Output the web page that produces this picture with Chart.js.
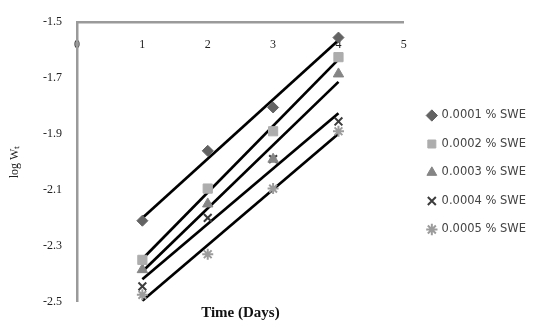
<!DOCTYPE html>
<html>
<head>
<meta charset="utf-8">
<script src="https://cdn.jsdelivr.net/npm/chart.js@4/dist/chart.umd.min.js"></script>
<style>
html,body{margin:0;padding:0;background:#fff;}
#wrap{width:536px;height:324px;position:relative;}
</style>
</head>
<body>
<div id="wrap"><canvas id="c" width="536" height="324"></canvas></div>
<script>
const days = [1, 2, 3, 4];
const seriesLabels = ['0.0001 % SWE', '0.0002 % SWE', '0.0003 % SWE', '0.0004 % SWE', '0.0005 % SWE'];
const swe1 = [-2.21, -1.96, -1.805, -1.555];
const swe2 = [-2.35, -2.095, -1.89, -1.625];
const swe3 = [-2.385, -2.15, -1.99, -1.685];
const swe4 = [-2.445, -2.20, -1.99, -1.855];
const swe5 = [-2.475, -2.33, -2.095, -1.89];
const xTicks = [0, 1, 2, 3, 4, 5];
const yTicks = [-2.5, -2.3, -2.1, -1.9, -1.7, -1.5];

const allSeries = [swe1, swe2, swe3, swe4, swe5];
const styles = [
  {pointStyle: 'rectRot', color: '#636363', radius: 5.5},
  {pointStyle: 'rect', color: '#adadad', radius: 6.5},
  {pointStyle: 'triangle', color: '#858585', radius: 6},
  {pointStyle: 'crossRot', color: '#3c3c3c', radius: 5.5},
  {pointStyle: 'star', color: '#9c9c9c', radius: 5.5}
];

function fit(xs, ys) {
  const n = xs.length;
  const mx = xs.reduce((a, b) => a + b, 0) / n;
  const my = ys.reduce((a, b) => a + b, 0) / n;
  let sxy = 0, sxx = 0;
  for (let i = 0; i < n; i++) { sxy += (xs[i] - mx) * (ys[i] - my); sxx += (xs[i] - mx) ** 2; }
  const b = sxy / sxx, a = my - b * mx;
  return [{x: xs[0], y: a + b * xs[0]}, {x: xs[n - 1], y: a + b * xs[n - 1]}];
}

const datasets = [];
allSeries.forEach((s, i) => {
  datasets.push({
    label: 'trend' + i, data: fit(days, s), showLine: true,
    borderColor: '#000', borderWidth: 2.7, pointRadius: 0, order: 2
  });
});
allSeries.forEach((s, i) => {
  const st = styles[i];
  datasets.push({
    label: seriesLabels[i],
    data: days.map((d, j) => ({x: d, y: s[j]})),
    showLine: false, pointStyle: st.pointStyle, pointRadius: st.radius,
    pointBackgroundColor: st.color, pointBorderColor: st.color,
    pointBorderWidth: (st.pointStyle === 'crossRot' || st.pointStyle === 'star') ? 2 : 1,
    backgroundColor: st.color, borderColor: st.color, order: 1
  });
});

new Chart(document.getElementById('c'), {
  type: 'scatter',
  data: {datasets},
  options: {
    responsive: false, animation: false,
    layout: {autoPadding: false, padding: {top: 21, left: 0, right: 0, bottom: 0}},
    scales: {
      x: {
        type: 'linear', position: {y: -1.5}, min: 0, max: 5,
        afterBuildTicks: (sc) => { sc.ticks = xTicks.map(v => ({value: v})); },
        afterFit: (sc) => { sc.height = 10; },
        grid: {display: false, drawTicks: false},
        border: {display: true, color: '#9a9a9a', width: 2.5},
        ticks: {padding: 15, color: '#222', font: {family: 'Liberation Serif', size: 12}}
      },
      y: {
        type: 'linear', min: -2.5, max: -1.5,
        afterBuildTicks: (sc) => { sc.ticks = yTicks.map(v => ({value: v})); },
        afterFit: (sc) => { sc.width = 77; },
        grid: {display: false, drawTicks: false},
        border: {display: true, color: '#9a9a9a', width: 2.5},
        ticks: {padding: 15, color: '#222', font: {family: 'Liberation Serif', size: 12}, callback: (v) => v.toFixed(1)},
        title: {display: true, text: 'log Wₜ', color: '#222', padding: {top: 8, bottom: 0}, font: {family: 'Liberation Serif', size: 12}}
      },
      spacer: {
        type: 'linear', position: 'right', display: true,
        grid: {display: false, drawTicks: false}, border: {display: false}, ticks: {display: false},
        afterFit: (sc) => { sc.width = 7; }
      }
    },
    plugins: {
      title: {
        display: true, position: 'bottom', fullSize: false, text: 'Time (Days)',
        color: '#111', font: {family: 'Liberation Serif', size: 15, weight: 'bold', lineHeight: 1},
        padding: {top: 4, bottom: 0}
      },
      legend: {
        display: true, position: 'right', align: 'center', maxWidth: 220,
        labels: {
          usePointStyle: true, boxWidth: 8, boxHeight: 8, padding: 17,
          color: '#444', font: {family: 'DejaVu Sans', size: 11.5},
          filter: (item) => !item.text.startsWith('trend')
        }
      },
      tooltip: {enabled: false}
    }
  }
});
</script>
</body>
</html>
